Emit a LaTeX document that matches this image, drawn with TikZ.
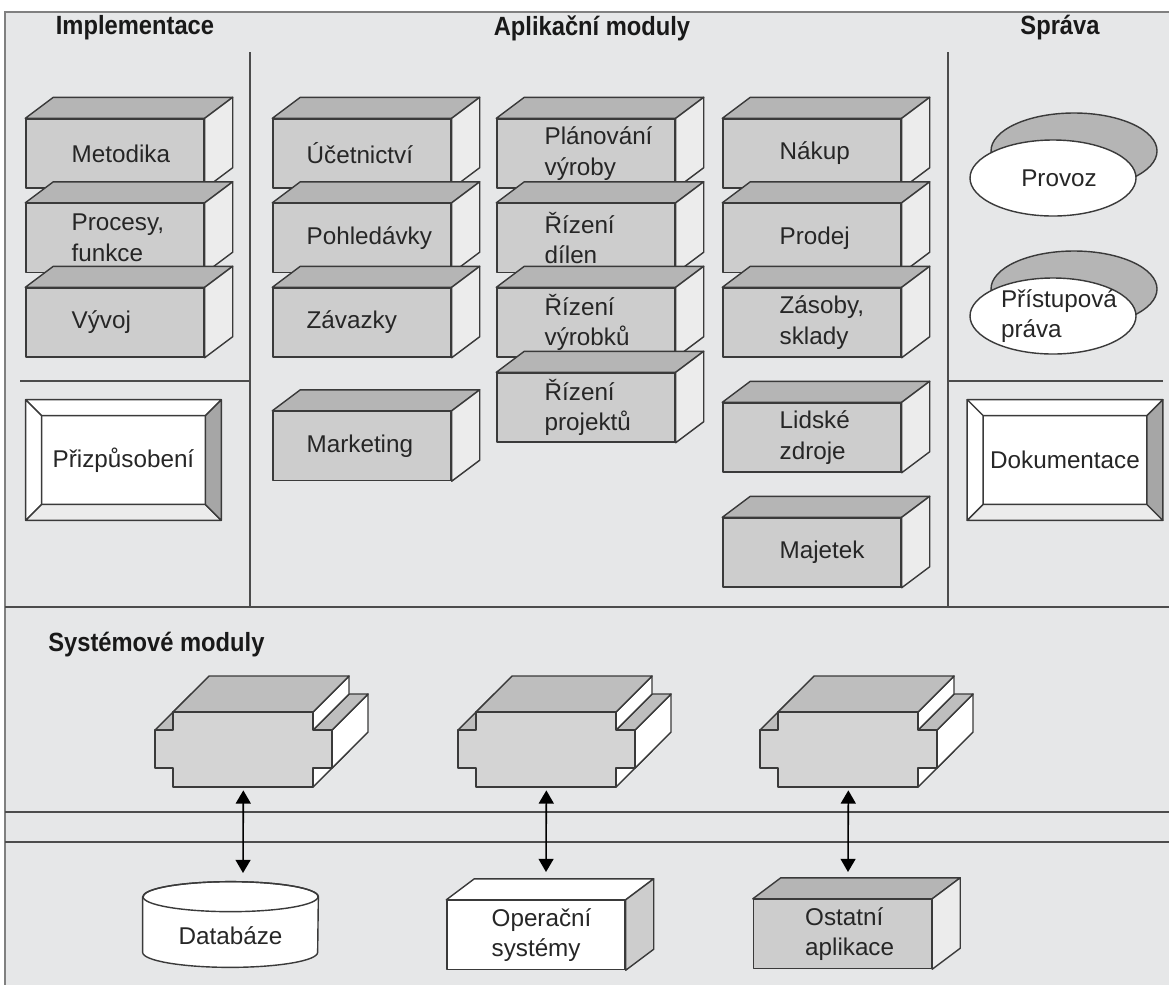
\documentclass[tikz,border=0pt]{standalone}
\usepackage{fontspec}
\setmainfont{Liberation Sans}
\newfontfamily\headfont[FakeStretch=0.9]{Liberation Sans}
\usetikzlibrary{shapes.geometric,arrows.meta}

\newcommand{\upx}{0.02cm}
\definecolor{panel}{HTML}{E6E7E8}
\definecolor{edge}{HTML}{3A3A3A}
\definecolor{facefront}{HTML}{CDCDCD}
\definecolor{facetop}{HTML}{B5B5B5}
\definecolor{faceside}{HTML}{ECECEC}
\definecolor{modfront}{HTML}{D4D4D4}
\definecolor{modtop}{HTML}{BEBEBE}

\tikzset{
        boxedge/.style={draw=edge, line width=0.8pt, line join=round},
        boxfront/.style={boxedge, rectangle, minimum width=178*\upx, minimum height=69*\upx, inner sep=0},
        boxtext/.style={inner sep=0, align=left, text=black!85, font=\fontsize{13.8}{17.5}\selectfont},
        head/.style={inner sep=0, text=black!90, font=\headfont\bfseries\fontsize{15}{18}\selectfont},
        divider/.style={draw=black!70, line width=0.8pt},
}

% 3D box: name, centre of front face, text indent, text, front, top, side
\newcommand{\modbox}[7]{%
        \node[boxfront, fill=#5] (#1) at (#2) {};
        \filldraw[boxedge, fill=#6] (#1.north west) -- ++(28,21) -- ([shift={(28,21)}]#1.north east) -- (#1.north east) -- cycle;
        \filldraw[boxedge, fill=#7] (#1.north east) -- ++(28,21) -- ([shift={(28,21)}]#1.south east) -- (#1.south east) -- cycle;
        \node[boxtext, anchor=west] (#1-t) at ([shift={(#3,0)}]#1.west) {#4};
}

% bevelled frame: name, centre, text
\newcommand{\bevel}[3]{%
        \node[rectangle, fill=white, minimum width=163*\upx, minimum height=88*\upx, inner sep=0] (#1) at (#2) {};
        \filldraw[boxedge, fill=white] (#1.north west) -- ++(-16,16) -- ([shift={(16,16)}]#1.north east) -- (#1.north east) -- cycle;
        \filldraw[boxedge, fill=white] (#1.north west) -- ++(-16,16) -- ([shift={(-16,-16)}]#1.south west) -- (#1.south west) -- cycle;
        \filldraw[boxedge, fill=faceside] (#1.south west) -- ++(-16,-16) -- ([shift={(16,-16)}]#1.south east) -- (#1.south east) -- cycle;
        \filldraw[boxedge, fill=black!35] (#1.north east) -- ++(16,16) -- ([shift={(16,-16)}]#1.south east) -- (#1.south east) -- cycle;
        \node[boxtext] (#1-t) at (#1.center) {#3};
}

% oval with shaded rim: name, centre, text
\newcommand{\disc}[3]{%
        \coordinate (#1-c) at (#2);
        \filldraw[boxedge, fill=facetop] ([shift={(21,27)}]#1-c) ellipse [x radius=83, y radius=38];
        \node[ellipse, boxedge, fill=white, minimum width=166*\upx, minimum height=76*\upx, inner sep=0] (#1) at (#1-c) {};
        \node[boxtext] (#1-t) at ([shift={(6,0)}]#1-c) {#3};
}

% system module: name, front top-left corner of the body
\newcommand{\sysmod}[2]{%
        \begin{scope}[shift={(#2)}]
        \filldraw[boxedge, fill=white] (140,-56) -- (140,-75) -- (176,-39) -- (176,-20) -- cycle;
        \filldraw[boxedge, fill=white] (159,-18) -- (159,-56) -- (195,-20) -- (195,18) -- cycle;
        \filldraw[boxedge, fill=modtop] (140,-18) -- (159,-18) -- (195,18) -- (176,18) -- cycle;
        \filldraw[boxedge, fill=white] (140,0) -- (140,-18) -- (176,18) -- (176,36) -- cycle;
        \filldraw[boxedge, fill=modtop] (-18,-18) -- (0,-18) -- (36,18) -- (18,18) -- cycle;
        \filldraw[boxedge, fill=modtop] (0,0) -- (140,0) -- (176,36) -- (36,36) -- cycle;
        \filldraw[boxedge, fill=modfront] (0,0) -- (140,0) -- (140,-18) -- (159,-18) -- (159,-56) -- (140,-56)
                -- (140,-75) -- (0,-75) -- (0,-56) -- (-18,-56) -- (-18,-18) -- (0,-18) -- cycle;
        \node[inner sep=0, minimum width=140*\upx, minimum height=75*\upx, anchor=north west] (#1) at (0,0) {};
        \end{scope}
}

\begin{document}
\begin{tikzpicture}[x=\upx, y=\upx]
        \useasboundingbox (0,0) rectangle (1169,-985);
        \fill[white] (0,0) rectangle (1169,-985);
        \fill[panel] (5,-12) rectangle (1169,-985);
        \draw[black!50, line width=1.1pt] (1169,-12) -- (5,-12) -- (5,-985);

        % dividers
        \draw[divider] (250,-52) -- (250,-607);
        \draw[divider] (948,-52) -- (948,-607);
        \draw[divider] (20,-381) -- (250,-381);
        \draw[divider] (948,-381) -- (1163,-381);
        \draw[divider] (5,-607) -- (1169,-607);
        \draw[divider] (5,-812) -- (1169,-812);
        \draw[divider] (5,-842) -- (1169,-842);

        % headings
        \node[head] (impl) at (135,-28) {Implementace};
        \node[head] (apps) at (592,-28) {Aplikační moduly};
        \node[head] (admin) at (1060,-28) {Správa};
        \node[head, anchor=west] (sys) at (48,-645) {Systémové moduly};

        % Implementace
        \modbox{metod}{115,-153.5}{46}{Metodika}{facefront}{facetop}{faceside}
        \modbox{proc}{115,-238}{46}{Procesy,\\funkce}{facefront}{facetop}{faceside}
        \modbox{vyvoj}{115,-322.5}{46}{Vývoj}{facefront}{facetop}{faceside}
        \bevel{custom}{123.5,-460}{Přizpůsobení}

        % Aplikační moduly
        \modbox{ucto}{362,-153.5}{34}{Účetnictví}{facefront}{facetop}{faceside}
        \modbox{pohl}{362,-238}{34}{Pohledávky}{facefront}{facetop}{faceside}
        \modbox{zav}{362,-322.5}{34}{Závazky}{facefront}{facetop}{faceside}
        \modbox{mark}{362,-446}{34}{Marketing}{facefront}{facetop}{faceside}

        \modbox{plan}{586,-153.5}{48}{Plánování\\výroby}{facefront}{facetop}{faceside}
        \modbox{dil}{586,-238}{48}{Řízení\\dílen}{facefront}{facetop}{faceside}
        \modbox{vyr}{586,-322.5}{48}{Řízení\\výrobků}{facefront}{facetop}{faceside}
        \modbox{proj}{586,-407.5}{48}{Řízení\\projektů}{facefront}{facetop}{faceside}

        \modbox{nakup}{812,-153.5}{57}{Nákup}{facefront}{facetop}{faceside}
        \modbox{prodej}{812,-238}{57}{Prodej}{facefront}{facetop}{faceside}
        \modbox{zasoby}{812,-322.5}{57}{Zásoby,\\sklady}{facefront}{facetop}{faceside}
        \modbox{lidi}{812,-437.5}{57}{Lidské\\zdroje}{facefront}{facetop}{faceside}
        \modbox{majetek}{812,-552.5}{57}{Majetek}{facefront}{facetop}{faceside}

        % Správa
        \disc{provoz}{1053,-178}{Provoz}
        \disc{prava}{1053,-316}{Přístupová\\práva}
        \bevel{dokum}{1065,-460}{Dokumentace}

        % Systémové moduly
        \sysmod{sm1}{173,-712}
        \sysmod{sm2}{476,-712}
        \sysmod{sm3}{778,-712}

        % Databáze
        \node[inner sep=0, minimum width=175*\upx, minimum height=85*\upx] (db) at (230.5,-924.5) {};
        \filldraw[boxedge, fill=white] ([shift={(0,-15)}]db.north west) -- ([shift={(0,15)}]db.south west)
                arc[start angle=180, end angle=360, x radius=87.5, y radius=15]
                -- ([shift={(0,-15)}]db.north east)
                arc[start angle=0, end angle=180, x radius=87.5, y radius=15] -- cycle;
        \draw[boxedge] ([shift={(0,-15)}]db.north) ellipse [x radius=87.5, y radius=15];
        \node[boxtext] (db-t) at (230.5,-936) {Databáze};

        \modbox{os}{536,-935}{45}{Operační\\systémy}{white}{white}{facefront}
        \modbox{other}{842.5,-934}{52}{Ostatní\\aplikace}{facefront}{facetop}{faceside}

        % links
        \coordinate (in1) at (243,-873);
        \coordinate (in2) at (546,-872);
        \coordinate (in3) at (848,-872);
        \foreach \m/\t in {sm1/in1, sm2/in2, sm3/in3}
                \draw[black, line width=0.9pt, {Triangle[length=7.5pt,width=8.5pt]}-{Triangle[length=7.5pt,width=8.5pt]}, shorten <=1.5pt] (\m.south) -- (\t);
\end{tikzpicture}
\end{document}
